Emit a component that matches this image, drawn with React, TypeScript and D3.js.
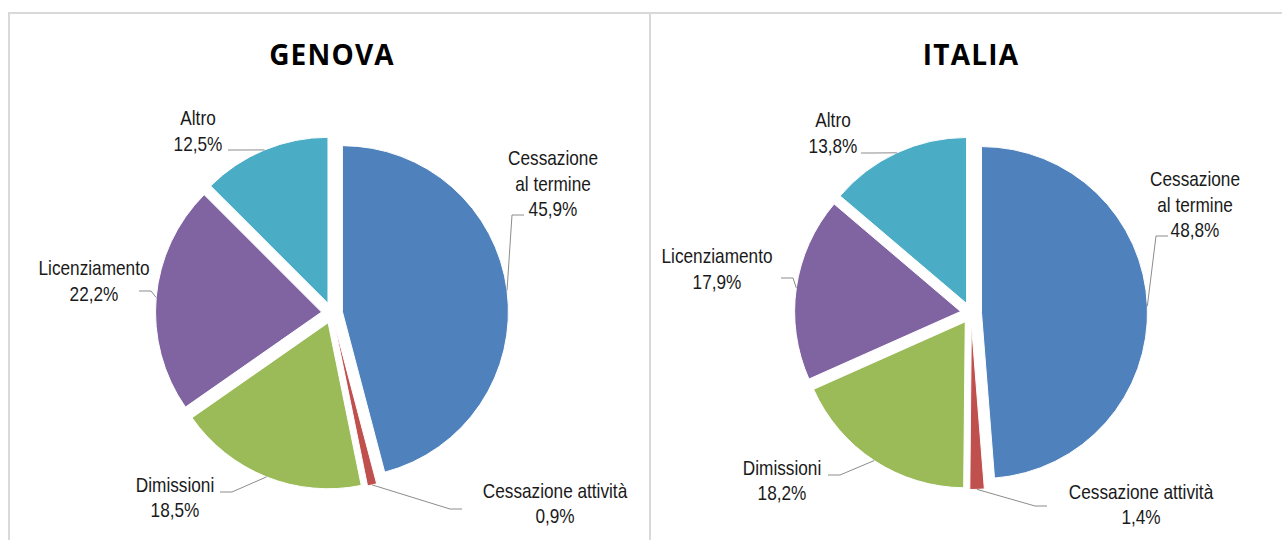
import React from "react";
import * as d3 from "d3";

const categories = [
  "Cessazione al termine",
  "Cessazione attività",
  "Dimissioni",
  "Licenziamento",
  "Altro",
];
const labelLines = [
  ["Cessazione", "al termine"],
  ["Cessazione attività"],
  ["Dimissioni"],
  ["Licenziamento"],
  ["Altro"],
];
const genovaValues = [45.9, 0.9, 18.5, 22.2, 12.5];
const italiaValues = [48.8, 1.4, 18.2, 17.9, 13.8];
const panelTitles = ["GENOVA", "ITALIA"];
const colors = ["#4F81BD", "#C0504D", "#9BBB59", "#8064A2", "#4BACC6"];

// layout: label centre x / first baseline y and leader attach point, relative to pie centre
const genovaLabelLayout = [
  { lx: 221, ly: -148, ax: 192, ay: -98 },
  { lx: 223, ly: 185, ax: 130, ay: 196 },
  { lx: -157, ly: 179, ax: -112, ay: 179 },
  { lx: -238, ly: -38, ax: -193, ay: -22 },
  { lx: -134, ly: -188, ax: -104, ay: -163 },
];
const italiaLabelLayout = [
  { lx: 224, ly: -127, ax: 197, ay: -77 },
  { lx: 170, ly: 186, ax: 76, ay: 193 },
  { lx: -189, ly: 162, ax: -143, ay: 162 },
  { lx: -254, ly: -50, ax: -190, ay: -35 },
  { lx: -138, ly: -186, ax: -110, ay: -160 },
];

const W = 1282;
const H = 540;
const R = 166;
const EXPLODE = 10.5;
const LINE_H = 25.5;
const LABEL_FONT = '"Liberation Sans", Arial, sans-serif';
const NARROW = 0.82;

const fmt = (v: number) => v.toFixed(1).replace(".", ",") + "%";

function Pie({
  cx,
  cy,
  title,
  values,
  layout,
}: {
  cx: number;
  cy: number;
  title: string;
  values: number[];
  layout: { lx: number; ly: number; ax: number; ay: number }[];
}) {
  const data = categories.map((c, i) => ({ c, v: values[i], i }));
  const arcs = d3
    .pie<{ c: string; v: number; i: number }>()
    .sort(null)
    .value((d) => d.v)(data);
  const arcGen = d3
    .arc<d3.PieArcDatum<{ c: string; v: number; i: number }>>()
    .innerRadius(0)
    .outerRadius(R);

  return (
    <g>
      <text
        x={cx}
        y={65}
        textAnchor="middle"
        fontFamily='"Open Sans", sans-serif'
        fontWeight={700}
        fontSize={28}
        letterSpacing={1.2}
        fill="#000"
      >
        {title}
      </text>
      <g transform={`translate(${cx},${cy})`}>
        {arcs.map((a) => {
          const mid = (a.startAngle + a.endAngle) / 2;
          const ox = Math.sin(mid) * EXPLODE;
          const oy = -Math.cos(mid) * EXPLODE;
          return (
            <path
              key={a.data.c}
              d={arcGen(a) || ""}
              transform={`translate(${ox},${oy})`}
              fill={colors[a.index]}
              stroke="#fff"
              strokeWidth={1}
            />
          );
        })}
        {arcs.map((a) => {
          const mid = (a.startAngle + a.endAngle) / 2;
          const px = Math.sin(mid) * (R + EXPLODE);
          const py = -Math.cos(mid) * (R + EXPLODE);
          const L = layout[a.index];
          const ex = L.ax + (L.ax < 0 ? 12 : -12);
          const lines = labelLines[a.index];
          return (
            <g key={"l" + a.data.c}>
              <polyline
                points={`${px},${py} ${ex},${L.ay} ${L.ax},${L.ay}`}
                fill="none"
                stroke="#8c8c8c"
                strokeWidth={1}
              />
              <g transform={`translate(${L.lx},0) scale(${NARROW},1)`}>
                <text
                  textAnchor="middle"
                  fontFamily={LABEL_FONT}
                  fontSize={21}
                  fill="#1a1a1a"
                >
                  {lines.map((t, k) => (
                    <tspan key={k} x={0} y={L.ly + k * LINE_H}>
                      {t}
                    </tspan>
                  ))}
                  <tspan x={0} y={L.ly + lines.length * LINE_H}>
                    {fmt(a.data.v)}
                  </tspan>
                </text>
              </g>
            </g>
          );
        })}
      </g>
    </g>
  );
}

export default function App() {
  return (
    <svg
      width={W}
      height={H}
      style={{ position: "absolute", left: 0, top: 0, background: "#fff" }}
    >
      <rect x={0} y={0} width={W} height={H} fill="#fff" />
      <line x1={9} y1={13} x2={W} y2={13} stroke="#d9d9d9" strokeWidth={2} />
      <line x1={9} y1={12} x2={9} y2={H} stroke="#d9d9d9" strokeWidth={2} />
      <line x1={650} y1={12} x2={650} y2={H} stroke="#d9d9d9" strokeWidth={2} />
      <Pie
        cx={332}
        cy={313}
        title={panelTitles[0]}
        values={genovaValues}
        layout={genovaLabelLayout}
      />
      <Pie
        cx={971}
        cy={313}
        title={panelTitles[1]}
        values={italiaValues}
        layout={italiaLabelLayout}
      />
    </svg>
  );
}
